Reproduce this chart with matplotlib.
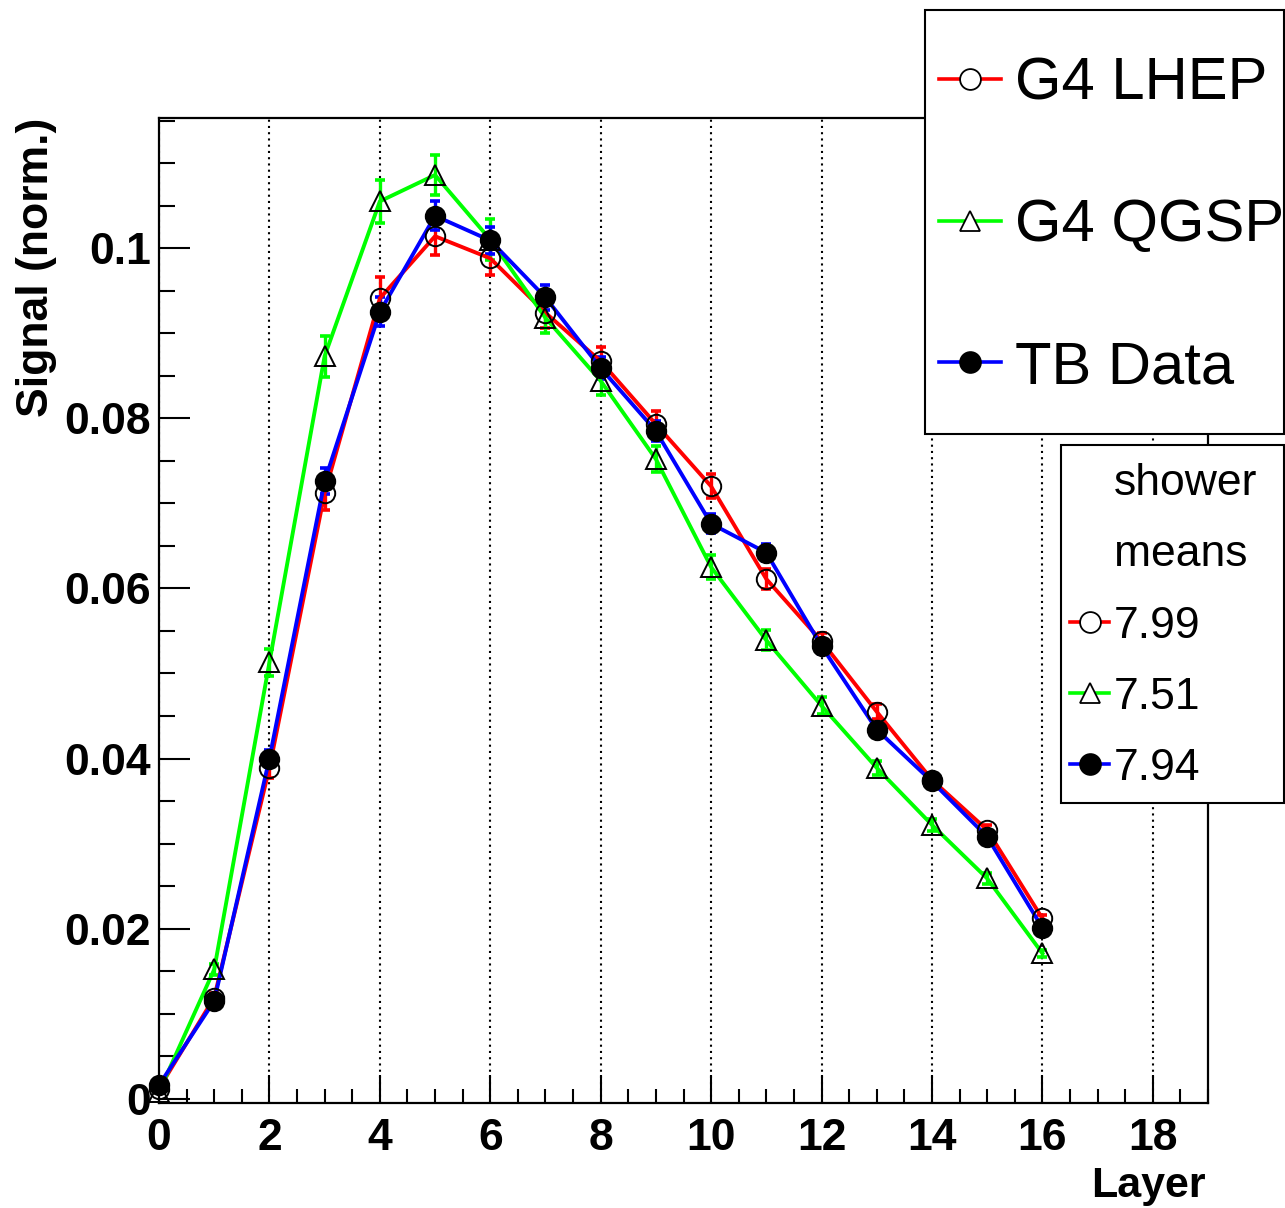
import numpy as np
import matplotlib.pyplot as plt
from matplotlib.lines import Line2D
from matplotlib.patches import Rectangle

plt.rcParams['font.family'] = ['Liberation Sans', 'DejaVu Sans']

# layer number
layer = np.arange(17)

# G4 LHEP (red, open circles)
lhep = [0.0012, 0.0119, 0.0389, 0.0712, 0.0941, 0.1014, 0.0988, 0.0924, 0.0867,
        0.0793, 0.0720, 0.0611, 0.0538, 0.0455, 0.0375, 0.0316, 0.0212]
lhep_err = [0.0001, 0.0005, 0.0012, 0.0020, 0.0025, 0.0022, 0.0019, 0.0018, 0.0017,
            0.0015, 0.0014, 0.0012, 0.0010, 0.0009, 0.0007, 0.0006, 0.0004]

# G4 QGSP (green, open triangles)
qgsp = [0.0008, 0.0152, 0.0513, 0.0873, 0.1055, 0.1086, 0.1010, 0.0918, 0.0844,
        0.0752, 0.0625, 0.0539, 0.0462, 0.0389, 0.0322, 0.0259, 0.0171]
qgsp_err = [0.0001, 0.0006, 0.0016, 0.0024, 0.0025, 0.0024, 0.0024, 0.0018, 0.0017,
            0.0015, 0.0014, 0.0012, 0.0010, 0.0008, 0.0007, 0.0006, 0.0004]

# TB data (blue, filled circles)
tb = [0.0016, 0.0115, 0.0400, 0.0726, 0.0925, 0.1038, 0.1009, 0.0942, 0.0859,
      0.0785, 0.0676, 0.0642, 0.0532, 0.0434, 0.0373, 0.0308, 0.0201]
tb_err = [0.0001, 0.0004, 0.0010, 0.0015, 0.0017, 0.0017, 0.0016, 0.0015, 0.0013,
          0.0012, 0.0011, 0.0010, 0.0009, 0.0007, 0.0006, 0.0005, 0.0004]

names = ['G4 LHEP', 'G4 QGSP', 'TB Data']
shower_means = ['7.99', '7.51', '7.94']

W, H = 1285, 1208
fig = plt.figure(figsize=(W / 100, H / 100), dpi=100)
ax = fig.add_axes([159 / W, 1 - 1103 / H, (1208 - 159) / W, (1103 - 118) / H])

styles = [('red', 'o', 'none'), ('lime', '^', 'none'), ('blue', 'o', 'black')]
for (vals, errs), (col, mk, fc) in zip([(lhep, lhep_err), (qgsp, qgsp_err), (tb, tb_err)], styles):
    ax.errorbar(layer, vals, yerr=errs, fmt='none', ecolor=col, elinewidth=2.4,
                capsize=3.5, capthick=2.6, zorder=2)
    ax.plot(layer, vals, color=col, lw=2.8, zorder=3)
    ax.plot(layer, vals, ls='none', marker=mk, ms=14, mfc=fc, mec='black',
            mew=1.4, zorder=4, clip_on=False)

ax.set_xlim(0, 19)
ax.set_ylim(-0.0005, 0.1153)
ax.set_xticks(np.arange(0, 19, 2))
ax.set_xticks(np.arange(0, 19.01, 0.5), minor=True)
ax.set_yticks([0, 0.02, 0.04, 0.06, 0.08, 0.1])
ax.set_yticklabels(['0', '0.02', '0.04', '0.06', '0.08', '0.1'])
ax.set_yticks(np.arange(0, 0.1151, 0.005), minor=True)
ax.tick_params(which='both', direction='in', top=False, right=False, width=1.5)
ax.tick_params(axis='x', which='major', length=20, pad=11, labelsize=32)
ax.tick_params(axis='x', which='minor', length=10)
ax.tick_params(axis='y', which='major', length=22, pad=6, labelsize=32)
ax.tick_params(axis='y', which='minor', length=11.5)
for lbl in ax.get_xticklabels() + ax.get_yticklabels():
    lbl.set_fontweight('bold')
for sp in ax.spines.values():
    sp.set_linewidth(1.6)

ax.xaxis.grid(True, which='major', color='black', lw=1.5, ls=(0, (1, 2)))

ax.set_xlabel('Layer', fontsize=31, fontweight='bold', loc='right')
ax.set_ylabel('Signal (norm.)', fontsize=32, fontweight='bold', loc='top')
ax.xaxis.set_label_coords(0.998, -0.064)
ax.yaxis.set_label_coords(-0.097, 1.0)

# legend 1
fig.add_artist(Rectangle((925 / W, 1 - 434 / H), 359 / W, 424 / H, transform=fig.transFigure,
                         facecolor='white', edgecolor='black', lw=1.5, zorder=5))
handles = [Line2D([], [], color=c, lw=2.6, marker=m, ms=15, mfc=('white' if f == 'none' else f),
                  mec='black', mew=1.3) for c, m, f in styles]
fig.legend(handles, names, loc='center left', bbox_to_anchor=(939 / W, 1 - 226 / H),
           frameon=False, borderpad=0, borderaxespad=0, handlelength=1.03,
           handletextpad=0.24, labelspacing=1.45, fontsize=43).set_zorder(6)

# legend 2
fig.add_artist(Rectangle((1061 / W, 1 - 803 / H), 223 / W, 358 / H, transform=fig.transFigure,
                         facecolor='white', edgecolor='black', lw=1.5, zorder=5))
blank = Line2D([], [], ls='none')
fig.legend([blank, blank] + handles, ['shower', 'means'] + shower_means, loc='center left',
           bbox_to_anchor=(1070 / W, 1 - 626 / H), frameon=False, borderpad=0, borderaxespad=0,
           handlelength=0.88, handletextpad=0.1, labelspacing=0.68, fontsize=32).set_zorder(6)

fig.savefig('out.png', dpi=100)
